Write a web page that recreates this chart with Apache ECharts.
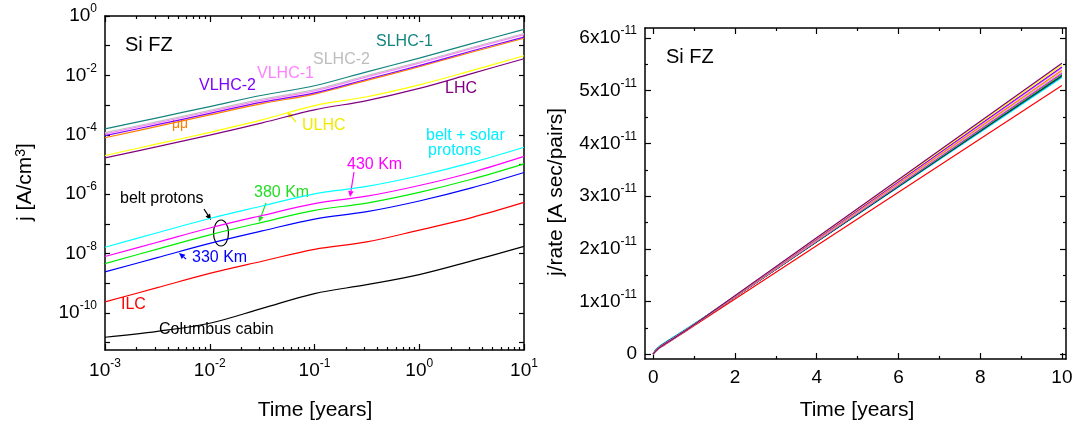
<!DOCTYPE html>
<html><head><meta charset="utf-8">
<script src="https://cdn.jsdelivr.net/npm/echarts@6/dist/echarts.min.js"></script>
<style>html,body{margin:0;padding:0;background:#fff}#c{width:1077px;height:428px}</style>
</head><body><div id="c"></div>
<script>
// ---------- LEFT PANEL DATA: time (years) and log10 of j [A/cm^3] ----------
const timeYears = [0.001, 0.00316, 0.01, 0.0316, 0.1, 0.316, 1, 3.16, 10];
const logJ_SLHC1 = [-3.80, -3.43, -3.05, -2.67, -2.35, -1.88, -1.42, -0.93, -0.45];
const logJ_SLHC2 = [-3.93, -3.56, -3.18, -2.80, -2.48, -2.01, -1.55, -1.06, -0.59];
const logJ_VLHC1 = [-3.97, -3.60, -3.22, -2.84, -2.52, -2.05, -1.59, -1.10, -0.63];
const logJ_VLHC2 = [-4.03, -3.66, -3.28, -2.90, -2.59, -2.13, -1.67, -1.18, -0.71];
const logJ_MuMu  = [-4.10, -3.72, -3.33, -2.95, -2.63, -2.17, -1.71, -1.22, -0.75];
const logJ_ULHC  = [-4.70, -4.31, -3.92, -3.50, -3.02, -2.72, -2.32, -1.84, -1.34];
const logJ_LHC   = [-4.78, -4.40, -4.01, -3.60, -3.16, -2.85, -2.44, -1.94, -1.44];
const logJ_BeltSolar = [-7.79, -7.30, -6.82, -6.40, -5.99, -5.74, -5.38, -4.94, -4.42];
const logJ_430km = [-8.10, -7.62, -7.14, -6.72, -6.32, -6.07, -5.71, -5.27, -4.73];
const logJ_380km = [-8.34, -7.85, -7.37, -6.95, -6.55, -6.30, -5.94, -5.50, -4.98];
const logJ_330km = [-8.62, -8.14, -7.66, -7.24, -6.84, -6.59, -6.23, -5.79, -5.27];
const logJ_ILC   = [-9.63, -9.15, -8.67, -8.26, -7.86, -7.61, -7.21, -6.79, -6.28];
const logJ_Columbus = [-10.82, -10.62, -10.35, -9.85, -9.35, -9.05, -8.71, -8.25, -7.76];

// ---------- RIGHT PANEL DATA: time (years) and j/rate in units of 1e-11 A sec/pairs ----------
const timeLin = [0, 0.05, 0.2, 0.5, 1, 10];
const rate_LHC   = [0, 0.05, 0.15, 0.30, 0.56, 5.52];
const rate_ULHC  = [0, 0.05, 0.15, 0.30, 0.56, 5.49];
const rate_VLHC2 = [0, 0.05, 0.15, 0.30, 0.56, 5.45];
const rate_VLHC1 = [0, 0.05, 0.15, 0.30, 0.56, 5.43];
const rate_MuMu  = [0, 0.05, 0.15, 0.30, 0.56, 5.39];
const rate_SLHC2 = [0, 0.05, 0.15, 0.30, 0.56, 5.36];
const rate_430km = [0, 0.06, 0.16, 0.31, 0.56, 5.33];
const rate_380km = [0, 0.06, 0.16, 0.31, 0.56, 5.31];
const rate_Columbus = [0, 0.06, 0.16, 0.31, 0.56, 5.30];
const rate_330km = [0, 0.06, 0.16, 0.31, 0.56, 5.29];
const rate_SLHC1 = [0, 0.07, 0.17, 0.32, 0.57, 5.27];
const rate_BeltSolar = [0, 0.08, 0.18, 0.33, 0.58, 5.25];
const rate_ILC   = [0, 0.05, 0.14, 0.29, 0.54, 5.10];

// ---------- TICK LABELS ----------
const leftXTickExps = [-3, -2, -1, 0, 1];
const leftYTickExps = [-10, -8, -6, -4, -2, 0];
const leftYAllTicks = [-11, -10, -9, -8, -7, -6, -5, -4, -3, -2, -1, 0];
const rightXTicks = [0, 2, 4, 6, 8, 10];
const rightXMinor = [1, 3, 5, 7, 9];
const rightYTicks = [0, 1, 2, 3, 4, 5, 6];
const rightYMinor = [0.5, 1.5, 2.5, 3.5, 4.5, 5.5];

const FONT = '"Liberation Sans", Arial, sans-serif';
const leftMinorX = [];
for (let d = -3; d < 1; d++) for (let k = 2; k <= 9; k++) leftMinorX.push(d + Math.log10(k));

const C = {
  SLHC1: '#13857e', SLHC2: '#c4c4c4', VLHC1: '#ff80ff', VLHC2: '#8000ff', MuMu: '#ff8000',
  ULHC: '#ffff00', LHC: '#800080', Belt: '#00ffff', K430: '#ff00ff', K380: '#00ee00',
  K330: '#0000ff', ILC: '#ff0000', Col: '#000000'
};

const leftDefs = [
  ['Columbus', logJ_Columbus, C.Col], ['ILC', logJ_ILC, C.ILC], ['330 Km', logJ_330km, C.K330],
  ['380 Km', logJ_380km, C.K380], ['430 Km', logJ_430km, C.K430], ['belt + solar', logJ_BeltSolar, C.Belt],
  ['LHC', logJ_LHC, C.LHC], ['ULHC', logJ_ULHC, C.ULHC], ['mumu', logJ_MuMu, C.MuMu],
  ['VLHC-2', logJ_VLHC2, C.VLHC2], ['VLHC-1', logJ_VLHC1, C.VLHC1], ['SLHC-2', logJ_SLHC2, C.SLHC2],
  ['SLHC-1', logJ_SLHC1, C.SLHC1]
];
const rightDefs = [
  ['ILC', rate_ILC, C.ILC], ['belt', rate_BeltSolar, C.Belt], ['SLHC-1', rate_SLHC1, C.SLHC1],
  ['330', rate_330km, C.K330], ['Col', rate_Columbus, C.Col], ['380', rate_380km, C.K380],
  ['430', rate_430km, C.K430], ['SLHC-2', rate_SLHC2, C.SLHC2], ['mumu', rate_MuMu, C.MuMu],
  ['VLHC-1', rate_VLHC1, C.VLHC1], ['VLHC-2', rate_VLHC2, C.VLHC2], ['ULHC', rate_ULHC, C.ULHC],
  ['LHC', rate_LHC, C.LHC]
];

const series = [];
leftDefs.forEach(([n, arr, col]) => series.push({
  type: 'line', name: n, xAxisIndex: 0, yAxisIndex: 0, smooth: 0.35, symbol: 'none',
  lineStyle: { color: col, width: 1.2 }, silent: true,
  data: timeYears.map((t, i) => [Math.log10(t), arr[i]])
}));
rightDefs.forEach(([n, arr, col]) => series.push({
  type: 'line', name: 'r' + n, xAxisIndex: 4, yAxisIndex: 2, smooth: 0.2, symbol: 'none',
  lineStyle: { color: col, width: 1.2 }, silent: true,
  data: timeLin.map((t, i) => [t, arr[i]])
}));

const supRich = {
  b: { fontSize: 19, fontFamily: FONT, color: '#000', lineHeight: 26 },
  s: { fontSize: 12, fontFamily: FONT, color: '#000', lineHeight: 12, verticalAlign: 'top' }
};
const axLine = { show: true, onZero: false, lineStyle: { color: '#000', width: 1.5 } };
const noLine = { show: false, onZero: false };
const tickStyle = { color: '#000', width: 1.2 };
function ax(extra) {
  return Object.assign({
    type: 'value', splitLine: { show: false }, axisLine: axLine,
    axisLabel: { show: false }, axisTick: { show: false }
  }, extra);
}
function ticks(vals, len) { return { show: true, inside: true, length: len, customValues: vals, lineStyle: tickStyle }; }

const xAxis = [
  ax({ gridIndex: 0, min: -3, max: 1, position: 'bottom', axisTick: ticks(leftXTickExps, 6),
       axisLabel: { show: true, customValues: leftXTickExps, margin: 8, formatter: v => '{b|10}{s|' + v + '}', rich: supRich } }),
  ax({ gridIndex: 0, min: -3, max: 1, position: 'bottom', axisLine: noLine, axisTick: ticks(leftMinorX, 3) }),
  ax({ gridIndex: 0, min: -3, max: 1, position: 'top', axisTick: ticks(leftXTickExps, 6) }),
  ax({ gridIndex: 0, min: -3, max: 1, position: 'top', axisLine: noLine, axisTick: ticks(leftMinorX, 3) }),
  ax({ gridIndex: 1, min: -0.2, max: 10.1, position: 'bottom', axisTick: ticks(rightXTicks, 6),
       axisLabel: { show: true, customValues: rightXTicks, margin: 9, fontSize: 19, fontFamily: FONT, color: '#000' } }),
  ax({ gridIndex: 1, min: -0.2, max: 10.1, position: 'bottom', axisLine: noLine, axisTick: ticks(rightXMinor, 3) }),
  ax({ gridIndex: 1, min: -0.2, max: 10.1, position: 'top', axisTick: ticks(rightXTicks, 6) }),
  ax({ gridIndex: 1, min: -0.2, max: 10.1, position: 'top', axisLine: noLine, axisTick: ticks(rightXMinor, 3) })
];
const yAxis = [
  ax({ gridIndex: 0, min: -11.25, max: 0, position: 'left', axisTick: ticks(leftYAllTicks, 5),
       axisLabel: { show: true, customValues: leftYTickExps, margin: 8, formatter: v => '{b|10}{s|' + v + '}', rich: supRich } }),
  ax({ gridIndex: 0, min: -11.25, max: 0, position: 'right', axisTick: ticks(leftYAllTicks, 5) }),
  ax({ gridIndex: 1, min: -0.09, max: 6.19, position: 'left', axisTick: ticks(rightYTicks, 6),
       axisLabel: { show: true, customValues: rightYTicks, margin: 8,
                    formatter: v => v === 0 ? '{b|0}' : '{b|' + v + 'x10}{s|-11}', rich: supRich } }),
  ax({ gridIndex: 1, min: -0.09, max: 6.19, position: 'left', axisLine: noLine, axisTick: ticks(rightYMinor, 3) }),
  ax({ gridIndex: 1, min: -0.09, max: 6.19, position: 'right', axisTick: ticks(rightYTicks, 6) }),
  ax({ gridIndex: 1, min: -0.09, max: 6.19, position: 'right', axisLine: noLine, axisTick: ticks(rightYMinor, 3) })
];

function txt(text, x, y, color, size, extra) {
  return Object.assign({
    type: 'text', x: x, y: y, silent: true,
    style: { text: text, fill: color, font: (size || 16) + 'px ' + FONT, fontSize: size || 16, fontFamily: FONT,
             textVerticalAlign: 'middle', verticalAlign: 'middle' }
  }, extra || {});
}
function ctxt(text, x, y, size) {
  return { type: 'text', x: x, y: y, silent: true,
    style: { text: text, fill: '#000', font: size + 'px ' + FONT, fontSize: size, fontFamily: FONT,
             align: 'center', textAlign: 'center', verticalAlign: 'middle', textVerticalAlign: 'middle' } };
}
function arrow(x0, y0, x1, y1, color) {
  const a = Math.atan2(y1 - y0, x1 - x0), L = 6, W = 2.8;
  const bx = x1 - L * Math.cos(a), by = y1 - L * Math.sin(a);
  const px = -Math.sin(a) * W, py = Math.cos(a) * W;
  return [
    { type: 'line', silent: true, shape: { x1: x0, y1: y0, x2: bx, y2: by }, style: { stroke: color, lineWidth: 1.2 } },
    { type: 'polygon', silent: true, shape: { points: [[x1, y1], [bx + px, by + py], [bx - px, by - py]] }, style: { fill: color } }
  ];
}
const graphic = [
  txt('Si FZ', 125, 45, '#000', 20),
  txt('Si FZ', 666, 57, '#000', 20),
  txt('SLHC-1', 376, 42, C.SLHC1),
  txt('SLHC-2', 313, 60, '#bdbdbd'),
  txt('VLHC-1', 257, 74, C.VLHC1),
  txt('VLHC-2', 199, 86, C.VLHC2),
  txt('μμ', 172, 124, C.MuMu, 14),
  txt('ULHC', 302, 126, '#f0ec00'),
  txt('LHC', 445, 89, C.LHC),
  txt('belt + solar', 426, 136, '#00eeff'),
  txt('protons', 428, 151, '#00eeff'),
  txt('430 Km', 347, 165, C.K430),
  txt('380 Km', 254, 193, '#22dd22'),
  txt('belt protons', 120, 199, '#000'),
  txt('330 Km', 192, 258, C.K330),
  txt('ILC', 121, 305, C.ILC),
  txt('Columbus cabin', 159, 330, '#000'),
  ctxt('Time [years]', 315, 410, 21),
  ctxt('Time [years]', 857, 410, 21),
  { type: 'text', x: 25, y: 182, rotation: Math.PI / 2, silent: true,
    style: { text: 'j [A/cm{s|3}]', fill: '#000', font: '21px ' + FONT, fontSize: 21, fontFamily: FONT,
             align: 'center', textAlign: 'center', verticalAlign: 'middle', textVerticalAlign: 'middle',
             rich: { s: { fontSize: 14, fontFamily: FONT, fill: '#000', color: '#000', lineHeight: 14, verticalAlign: 'top' } } } },
  { type: 'text', x: 556, y: 192, rotation: Math.PI / 2, silent: true,
    style: { text: 'j/rate [A sec/pairs]', fill: '#000', font: '21px ' + FONT, fontSize: 21, fontFamily: FONT,
             align: 'center', textAlign: 'center', verticalAlign: 'middle', textVerticalAlign: 'middle' } },
  { type: 'ellipse', silent: true, shape: { cx: 221, cy: 233, rx: 7.5, ry: 13 }, style: { fill: 'none', stroke: '#000', lineWidth: 1.2 } }
].concat(
  arrow(296, 122, 287, 112, '#f0ec00'),
  arrow(354, 172, 350, 197, C.K430),
  arrow(266, 203, 259, 222, '#22dd22'),
  arrow(204, 209, 211, 220, '#000'),
  arrow(186, 259, 179, 253, C.K330)
);

const chart = echarts.init(document.getElementById('c'));
chart.setOption({
  animation: false,
  backgroundColor: '#fff',
  grid: [
    { left: 105, top: 16, width: 419, height: 334 },
    { left: 645, top: 28, width: 421, height: 331 }
  ],
  xAxis: xAxis, yAxis: yAxis, series: series, graphic: graphic
});
</script></body></html>
